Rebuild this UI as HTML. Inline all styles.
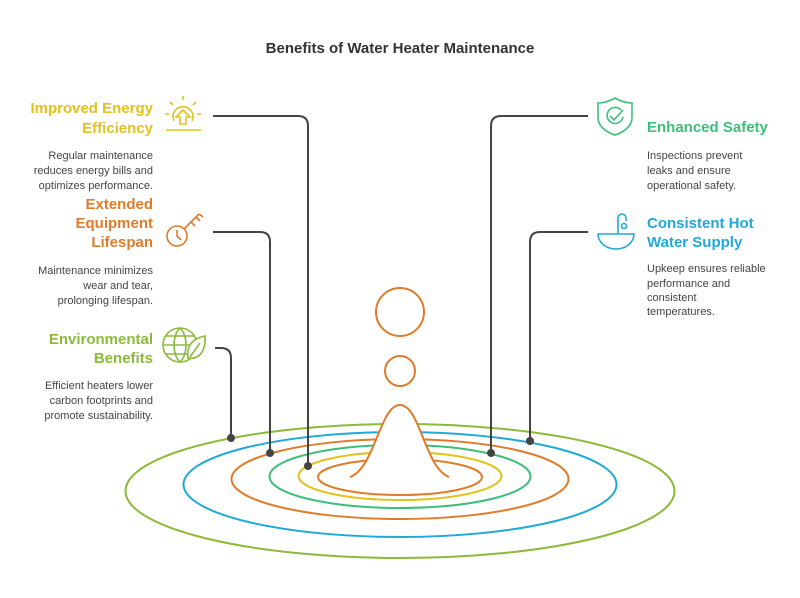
<!DOCTYPE html>
<html><head><meta charset="utf-8"><style>
body{margin:0;background:#fff;width:800px;height:598px;overflow:hidden;font-family:"Liberation Sans",sans-serif}
svg{display:block}
</style></head><body>
<svg width="800" height="598" viewBox="0 0 800 598" xmlns="http://www.w3.org/2000/svg">
<text x="400" y="53" text-anchor="middle" font-size="15" font-weight="bold" fill="#333">Benefits of Water Heater Maintenance</text>
<g fill="none" stroke-width="2">
<ellipse cx="400" cy="491" rx="274.5" ry="67" stroke="#8cba3a"/>
<ellipse cx="400" cy="484.5" rx="216.5" ry="52.5" stroke="#1fa9d8"/>
<ellipse cx="400" cy="479" rx="168.5" ry="40" stroke="#e07b2a"/>
<ellipse cx="400" cy="476.5" rx="130.5" ry="31.5" stroke="#3dbf7a"/>
<ellipse cx="400" cy="476" rx="101.5" ry="24" stroke="#e2c21b"/>
<ellipse cx="400" cy="477" rx="82" ry="18" stroke="#e07b2a"/>
<path d="M350 477 C375 468 380 405 400 405 C420 405 425 468 449 477" stroke="#e07b2a" fill="#fff"/>
<circle cx="400" cy="312" r="24" stroke="#e07b2a"/>
<circle cx="400" cy="371" r="15" stroke="#e07b2a"/>
</g>
<g fill="none" stroke="#444" stroke-width="2">
<path d="M213 116 H298 Q308 116 308 126 V466"/>
<path d="M213 232 H260 Q270 232 270 242 V453"/>
<path d="M215 348 H221 Q231 348 231 358 V438"/>
<path d="M588 116 H501 Q491 116 491 126 V453"/>
<path d="M588 232 H540 Q530 232 530 242 V441"/>
</g>
<g fill="#444">
<circle cx="308" cy="466" r="4"/><circle cx="270" cy="453" r="4"/><circle cx="231" cy="438" r="4"/>
<circle cx="491" cy="453" r="4"/><circle cx="530" cy="441" r="4"/>
</g>
<g fill="none" stroke="#e2c21b" stroke-width="1.6">
<path d="M174 121 A10 10 0 1 1 192 121"/>
<path d="M183 110 L176 117 H180 V124 H186 V117 H190 Z"/>
<path d="M166 130 H201"/>
<path d="M183 96 V100 M170 102 L173 105 M196 102 L193 105 M165 114 H169 M197 114 H201"/>
</g>
<g fill="none" stroke="#e07b2a" stroke-width="1.6">
<circle cx="177" cy="236" r="10"/>
<path d="M177 230 V236 L181 240"/>
<path d="M184 229 L199 214 M191 222 L195 226 M196 217 L200 221 M199 214 L203 217"/>
</g>
<g fill="none" stroke="#8cba3a" stroke-width="1.6">
<circle cx="180" cy="345" r="17"/>
<path d="M180 328 C172 335 172 355 180 362 M180 328 C188 335 188 355 180 362 M163 345 H197 M166 336 H194 M166 354 H194"/>
<path d="M188 358 C186 345 194 338 205 336 C206 350 200 360 188 358 Z" fill="#fff"/>
<path d="M190 357 L200 343"/>
</g>
<g fill="none" stroke="#3dbf7a" stroke-width="1.6">
<path d="M615 98 C608 102 603 103 598 103 V118 C598 126 606 132 615 135 C624 132 632 126 632 118 V103 C627 103 622 102 615 98 Z"/>
<path d="M621 110 A8 8 0 1 0 623 117"/>
<path d="M610 116 L614 120 L623 110"/>
</g>
<g fill="none" stroke="#1fa9d8" stroke-width="1.6">
<path d="M598 234 H634 A18 15 0 0 1 598 234 Z"/>
<path d="M618 234 V218 A4 4 0 0 1 626 218 V221"/>
<circle cx="624" cy="226" r="2.5"/>
</g>
<g font-size="15" font-weight="bold" text-anchor="end">
<text x="153" y="113" fill="#e2c21b">Improved Energy</text>
<text x="153" y="133" fill="#e2c21b">Efficiency</text>
<text x="153" y="209" fill="#e07b2a">Extended</text>
<text x="153" y="228" fill="#e07b2a">Equipment</text>
<text x="153" y="247" fill="#e07b2a">Lifespan</text>
<text x="153" y="344" fill="#8cba3a">Environmental</text>
<text x="153" y="363" fill="#8cba3a">Benefits</text>
</g>
<g font-size="15" font-weight="bold">
<text x="647" y="132" fill="#3dbf7a">Enhanced Safety</text>
<text x="647" y="228" fill="#1fa9d8">Consistent Hot</text>
<text x="647" y="247" fill="#1fa9d8">Water Supply</text>
</g>
<g font-size="11" fill="#444" text-anchor="end">
<text x="153" y="159">Regular maintenance</text>
<text x="153" y="174">reduces energy bills and</text>
<text x="153" y="189">optimizes performance.</text>
<text x="153" y="274">Maintenance minimizes</text>
<text x="153" y="289">wear and tear,</text>
<text x="153" y="304">prolonging lifespan.</text>
<text x="153" y="389">Efficient heaters lower</text>
<text x="153" y="404">carbon footprints and</text>
<text x="153" y="419">promote sustainability.</text>
</g>
<g font-size="11" fill="#444">
<text x="647" y="159">Inspections prevent</text>
<text x="647" y="174">leaks and ensure</text>
<text x="647" y="189">operational safety.</text>
<text x="647" y="272">Upkeep ensures reliable</text>
<text x="647" y="287">performance and</text>
<text x="647" y="301">consistent</text>
<text x="647" y="315">temperatures.</text>
</g>
</svg>
</body></html>
